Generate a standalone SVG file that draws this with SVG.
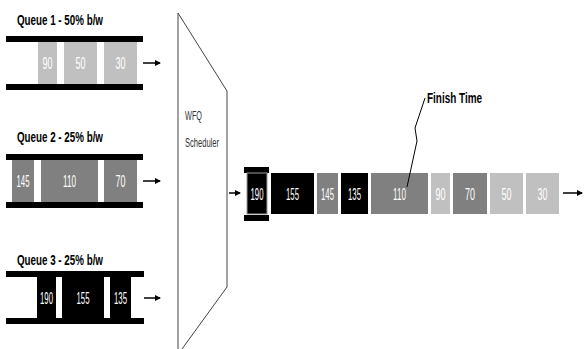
<svg xmlns="http://www.w3.org/2000/svg" width="584" height="349" viewBox="0 0 584 349">
<style>
.bar{fill:#000}
.lg{fill:#c0c0c0}
.dg{fill:#808080}
.bk{fill:#000}
.pt{font-family:"Liberation Sans",Arial,sans-serif;font-size:16px;fill:#fff;text-anchor:middle}
.ttl{font-family:"Liberation Sans",Arial,sans-serif;font-size:15px;font-weight:bold;fill:#000}
.sch{font-family:"Liberation Sans",Arial,sans-serif;font-size:13px;fill:#333}
.arr{stroke:#000;stroke-width:1.5;fill:none}
</style>
<defs>
<marker id="ah" markerWidth="6" markerHeight="6" refX="5" refY="3" orient="auto" markerUnits="userSpaceOnUse">
<path d="M0,0 L6,3 L0,6 Z" fill="#000"/>
</marker>
</defs>

<g id="queue1">
<text class="ttl" x="17" y="25" textLength="86" lengthAdjust="spacingAndGlyphs">Queue 1 - 50% b/w</text>
<rect class="bar" x="6" y="36" width="137" height="6"/>
<rect class="bar" x="6" y="84" width="137" height="6"/>
<rect class="lg" x="38" y="42" width="19" height="42"/>
<rect class="lg" x="64" y="42" width="33" height="42"/>
<rect class="lg" x="104" y="42" width="33" height="42"/>
<text class="pt" x="47.5" y="69" textLength="10" lengthAdjust="spacingAndGlyphs">90</text>
<text class="pt" x="80.5" y="69" textLength="10" lengthAdjust="spacingAndGlyphs">50</text>
<text class="pt" x="120.5" y="69" textLength="10" lengthAdjust="spacingAndGlyphs">30</text>
</g>

<g id="queue2">
<text class="ttl" x="17" y="142" textLength="86" lengthAdjust="spacingAndGlyphs">Queue 2 - 25% b/w</text>
<rect class="bar" x="6" y="154" width="137" height="6"/>
<rect class="bar" x="6" y="202" width="137" height="6"/>
<rect class="dg" x="12" y="160" width="22" height="42"/>
<rect class="dg" x="41" y="160" width="57" height="42"/>
<rect class="dg" x="104" y="160" width="33" height="42"/>
<text class="pt" x="23" y="187" textLength="13" lengthAdjust="spacingAndGlyphs">145</text>
<text class="pt" x="69.5" y="187" textLength="13" lengthAdjust="spacingAndGlyphs">110</text>
<text class="pt" x="120.5" y="187" textLength="10" lengthAdjust="spacingAndGlyphs">70</text>
</g>

<g id="queue3">
<text class="ttl" x="17" y="265" textLength="86" lengthAdjust="spacingAndGlyphs">Queue 3 - 25% b/w</text>
<rect class="bar" x="6" y="271" width="138" height="6"/>
<rect class="bar" x="6" y="318" width="138" height="6"/>
<rect class="bk" x="37" y="277" width="19" height="41"/>
<rect class="bk" x="62" y="277" width="42" height="41"/>
<rect class="bk" x="110" y="277" width="21" height="41"/>
<text class="pt" x="46.5" y="304" textLength="13" lengthAdjust="spacingAndGlyphs">190</text>
<text class="pt" x="83" y="304" textLength="13" lengthAdjust="spacingAndGlyphs">155</text>
<text class="pt" x="120.5" y="304" textLength="13" lengthAdjust="spacingAndGlyphs">135</text>
</g>

<g id="scheduler">
<path d="M182,349 L227,287 L227,91 L178,13 L178,349" fill="#fff" stroke="#444" stroke-width="1"/>
<text class="sch" x="185" y="120" textLength="17" lengthAdjust="spacingAndGlyphs">WFQ</text>
<text class="sch" x="185" y="147" textLength="34" lengthAdjust="spacingAndGlyphs">Scheduler</text>
</g>

<g id="output">
<rect class="bar" x="244" y="167" width="25" height="6"/>
<rect class="bar" x="244" y="215" width="25" height="6"/>
<rect class="bk" x="247" y="173" width="20" height="41" stroke="#999" stroke-width="1"/>
<rect class="bk" x="271" y="173" width="43" height="41"/>
<rect class="dg" x="317" y="173" width="21" height="41"/>
<rect class="bk" x="341" y="173" width="27" height="41"/>
<rect class="dg" x="371" y="173" width="57" height="41"/>
<rect class="lg" x="431" y="173" width="19" height="41"/>
<rect class="dg" x="453" y="173" width="34" height="41"/>
<rect class="lg" x="490" y="173" width="33" height="41"/>
<rect class="lg" x="526" y="173" width="33" height="41"/>
<text class="pt" x="257" y="200" textLength="13" lengthAdjust="spacingAndGlyphs">190</text>
<text class="pt" x="292.5" y="200" textLength="13" lengthAdjust="spacingAndGlyphs">155</text>
<text class="pt" x="327.5" y="200" textLength="13" lengthAdjust="spacingAndGlyphs">145</text>
<text class="pt" x="354.5" y="200" textLength="13" lengthAdjust="spacingAndGlyphs">135</text>
<text class="pt" x="399.5" y="200" textLength="13" lengthAdjust="spacingAndGlyphs">110</text>
<text class="pt" x="440.5" y="200" textLength="10" lengthAdjust="spacingAndGlyphs">90</text>
<text class="pt" x="470" y="200" textLength="10" lengthAdjust="spacingAndGlyphs">70</text>
<text class="pt" x="506.5" y="200" textLength="10" lengthAdjust="spacingAndGlyphs">50</text>
<text class="pt" x="542.5" y="200" textLength="10" lengthAdjust="spacingAndGlyphs">30</text>
</g>

<g id="finish-time">
<text class="ttl" x="427" y="103" textLength="55" lengthAdjust="spacingAndGlyphs">Finish Time</text>
</g>

<g id="connectors">
<line class="arr" x1="143" y1="63" x2="160" y2="63" marker-end="url(#ah)"/>
<line class="arr" x1="143" y1="181" x2="160" y2="181" marker-end="url(#ah)"/>
<line class="arr" x1="144" y1="298" x2="160" y2="298" marker-end="url(#ah)"/>
<line class="arr" x1="229" y1="193" x2="240" y2="193" marker-end="url(#ah)"/>
<line class="arr" x1="563" y1="193" x2="582" y2="193" marker-end="url(#ah)"/>
<polyline points="425,98 415,128 417,141 407,187" fill="none" stroke="#000" stroke-width="1"/>
</g>
</svg>
